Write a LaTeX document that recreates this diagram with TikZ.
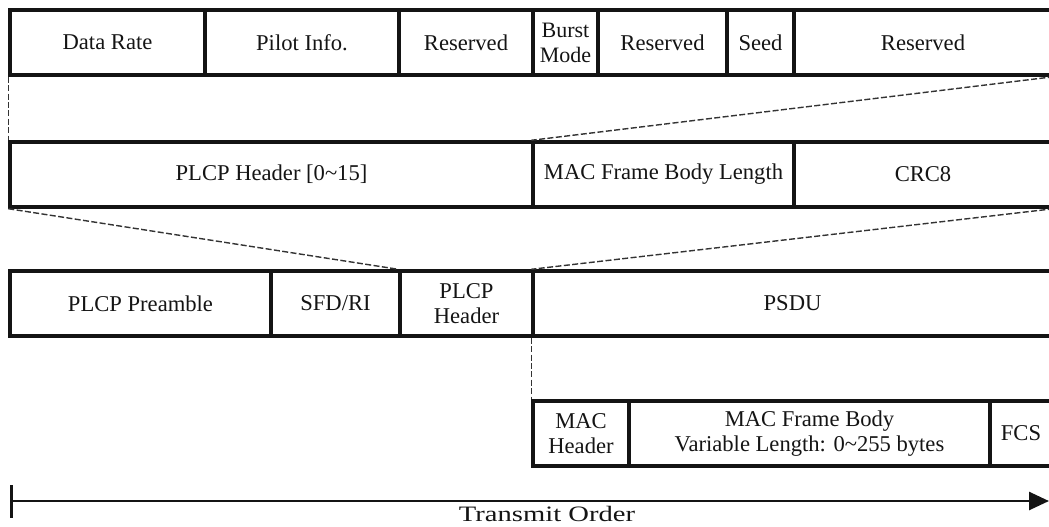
\documentclass[tikz,border=0pt]{standalone}
\usepackage{fontspec}
\setmainfont{Liberation Serif}
\usepackage{tikz}
\usetikzlibrary{positioning,arrows.meta}
\definecolor{ink}{HTML}{141414}
\definecolor{guide}{HTML}{333333}
\tikzset{
    field/.style={rectangle, draw=ink, line width=1.7pt, inner sep=0pt, minimum height=32.5pt, align=center, font=\fontsize{11.3}{12.5}\selectfont, text=ink},
    guideline/.style={draw=guide, line width=0.7pt, dash pattern=on 3pt off 1.2pt},
    order/.style={{Bar[width=16.5pt]}-{Triangle[length=10pt, width=9pt]}, line width=1.3pt, draw=ink}
}

\begin{document}
\begin{tikzpicture}[x=0.5pt, y=-0.5pt]
\path[use as bounding box, clip] (0,0) rectangle (1049,526);
\node[field, minimum width=97.5pt] (rate) at (107.5,42.5) {Data Rate};
\node[field, minimum width=97pt] (pilot) at (302,42.5) {Pilot Info.};
\node[field, minimum width=67pt] (resa) at (466,42.5) {Reserved};
\node[field, minimum width=32.5pt, font=\fontsize{11}{12.5}\selectfont] (burst) at (565.5,42.5) {Burst\\Mode};
\node[field, minimum width=64.5pt] (resb) at (662.5,42.5) {Reserved};
\node[field, minimum width=33.5pt] (seed) at (760.5,42.5) {Seed};
\node[field, minimum width=129pt] (resc) at (923,42.5) {Reserved};
\node[field, minimum width=261.5pt] (hdr) at (271.5,174.5) {PLCP Header [0\textasciitilde15]};
\node[field, minimum width=130.5pt] (len) at (663.5,174.5) {MAC Frame Body Length};
\node[field, minimum width=129pt] (crc) at (923,174.5) {CRC8};
\node[field, minimum width=130.5pt] (pre) at (140.5,303.5) {PLCP Preamble};
\node[field, minimum width=64.5pt] (sfd) at (335.5,303.5) {SFD/RI};
\node[field, minimum width=66.5pt] (plcp) at (466.5,303.5) {PLCP\\Header};
\node[field, minimum width=259.5pt] (psdu) at (792.5,303.5) {PSDU};
\node[field, minimum width=48pt] (machdr) at (581,433.5) {MAC\\Header};
\node[field, minimum width=180.5pt] (body) at (809.5,433.5) {MAC Frame Body\\Variable Length: 0\textasciitilde255 bytes};
\node[field, minimum width=31pt] (fcs) at (1021,433.5) {FCS};
\draw[guideline] (rate.south west) -- (hdr.north west);
\draw[guideline] (resc.south east) -- (len.north west);
\draw[guideline] (hdr.south west) -- (plcp.north west);
\draw[guideline] (crc.south east) -- (psdu.north west);
\draw[guideline] (psdu.south west) -- (machdr.north west);
\coordinate (txstart) at (10,501);
\coordinate (txend) at (1049,501);
\draw[order] (txstart) -- (txend);
\node[font=\fontsize{11}{12}\selectfont, text=ink] (txlabel) at (547,514) {\scalebox{1.3}[1]{Transmit Order}};
\end{tikzpicture}
\end{document}
